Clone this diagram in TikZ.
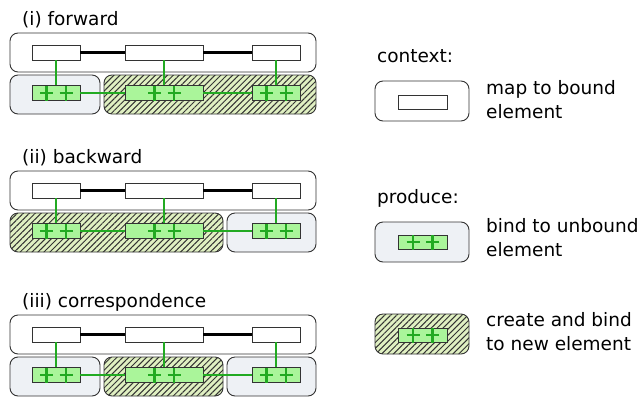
\documentclass[tikz,border=0pt]{standalone}
\usepackage{fontspec}
\setmainfont{DejaVu Sans}
\usetikzlibrary{patterns.meta}
\definecolor{ctxgray}{HTML}{EEF1F5}
\definecolor{hatchgreen}{HTML}{E0F0C2}
\definecolor{elemgreen}{HTML}{AAF59A}
\definecolor{linkgreen}{HTML}{22AA22}

\begin{document}
\begin{tikzpicture}[x=1pt,y=-1pt,
  font=\fontsize{18.5}{23.5}\selectfont,
  txt/.style={anchor=base west, inner sep=0pt, align=left},
  ctxbox/.style={draw=black!80, line width=0.9pt, rounded corners=8pt, fill=white},
  bindbox/.style={ctxbox, fill=ctxgray},
  newbox/.style={ctxbox, fill=hatchgreen,
    postaction={pattern={Lines[angle=45,distance=4.2pt,line width=1pt]}, pattern color=black!80}},
  elem/.style={draw=black!80, line width=0.9pt, fill=white, minimum height=15pt, inner sep=0pt, minimum width=48pt},
  wideelem/.style={elem, minimum width=78pt},
  gelem/.style={fill=elemgreen},
  ctxlink/.style={line width=2.2pt, black},
  glink/.style={line width=2.2pt, linkgreen},
  plusplus/.pic={
    \draw[glink] (-16,0) -- (-3,0) (-9.5,-7) -- (-9.5,8);
    \draw[glink] (3.5,0) -- (16.5,0) (10,-7) -- (10,8);
  }]
\useasboundingbox (0,0) rectangle (640,397);

% (i) forward
\node[txt] (ti) at (22,25) {(i) forward};
\draw [ctxbox] (10,33) rectangle (316,72);
\draw [bindbox] (10,75) rectangle (100,114);
\draw [newbox] (104,75) rectangle (316,114);
\node[elem] (ca1) at (56,52.5) {};
\node[wideelem] (ca2) at (164,52.5) {};
\node[elem] (ca3) at (276,52.5) {};
\node[elem,gelem] (ga1) at (56,93) {};
\node[wideelem,gelem] (ga2) at (164,93) {};
\node[elem,gelem] (ga3) at (276,93) {};

% (ii) backward
\node[txt] (tii) at (22,163) {(ii) backward};
\draw [ctxbox] (10,171) rectangle (316,210);
\draw [newbox] (10,213) rectangle (223,252);
\draw [bindbox] (227,213) rectangle (316,252);
\node[elem] (cb1) at (56,190.5) {};
\node[wideelem] (cb2) at (164,190.5) {};
\node[elem] (cb3) at (276,190.5) {};
\node[elem,gelem] (gb1) at (56,231) {};
\node[wideelem,gelem] (gb2) at (164,231) {};
\node[elem,gelem] (gb3) at (276,231) {};

% (iii) correspondence
\node[txt] (tiii) at (22,307) {(iii) correspondence};
\draw [ctxbox] (10,315) rectangle (316,354);
\draw [bindbox] (10,357) rectangle (100,396);
\draw [newbox] (104,357) rectangle (223,396);
\draw [bindbox] (227,357) rectangle (316,396);
\node[elem] (cc1) at (56,334.5) {};
\node[wideelem] (cc2) at (164,334.5) {};
\node[elem] (cc3) at (276,334.5) {};
\node[elem,gelem] (gc1) at (56,375) {};
\node[wideelem,gelem] (gc2) at (164,375) {};
\node[elem,gelem] (gc3) at (276,375) {};

% The links:
\foreach \p in {a,b,c} {
  \draw [ctxlink] (c\p1) -- (c\p2);
  \draw [ctxlink] (c\p2) -- (c\p3);
  \draw [glink] (g\p1) -- (g\p2);
  \draw [glink] (g\p2) -- (g\p3);
  \draw [glink] (c\p1) -- (g\p1);
  \draw [glink] (c\p2) -- (g\p2);
  \draw [glink] (c\p3) -- (g\p3);
  \pic at (g\p1) {plusplus};
  \pic at (g\p2) {plusplus};
  \pic at (g\p3) {plusplus};
}

% Legend
\node[txt] (lctx) at (377,62) {context:};
\draw [ctxbox] (375,81) rectangle (469,121);
\node[elem, minimum width=49pt, minimum height=14pt] (lc) at (422.5,102) {};
\node[txt] (lmap) at (486,118) {map to bound\\element};

\node[txt] (lprod) at (377,203) {produce:};
\draw [bindbox] (375,222) rectangle (469,262);
\node[elem, gelem, minimum width=49pt, minimum height=14pt] (lb) at (422.5,242) {};
\pic at (lb) {plusplus};
\node[txt] (lbind) at (486,256) {bind to unbound\\element};

\draw [newbox] (375,314) rectangle (469,354);
\node[elem, gelem, minimum width=49pt, minimum height=14pt] (ln) at (422.5,335) {};
\pic at (ln) {plusplus};
\node[txt] (lnew) at (486,350) {create and bind\\to new element};
\end{tikzpicture}
\end{document}
